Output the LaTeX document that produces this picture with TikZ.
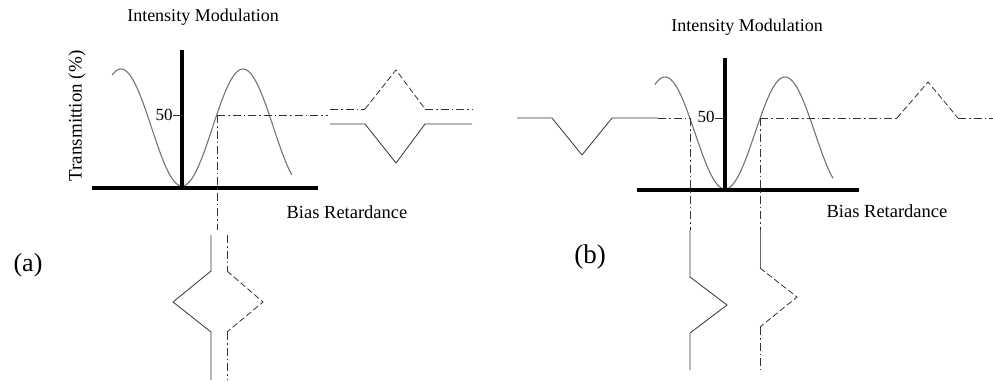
\documentclass[tikz,border=0pt]{standalone}
\usepackage{fontspec}
\setmainfont{Liberation Serif}
\begin{document}
\begin{tikzpicture}[x=1pt,y=-1pt,
  txt/.style={inner sep=0pt, font=\fontsize{17}{19}\selectfont},
  axisline/.style={line width=4pt, black},
  curve/.style={line width=1.1pt, black!55},
  wave/.style={line width=0.8pt, black!80},
  dashdot/.style={line width=0.8pt, black!80, dash pattern=on 8pt off 3pt on 1.5pt off 3pt},
  dashline/.style={line width=0.8pt, black!80, dash pattern=on 6pt off 3pt}]
\useasboundingbox (0,0) rectangle (993,381);
% ---------- panel (a) ----------
\node[txt, font=\fontsize{18}{20}\selectfont] (titleA) at (203,17) {Intensity Modulation};
\node[txt, font=\fontsize{19}{21}\selectfont, rotate=90] (ylab) at (77,116) {Transmittion (\%)};
\node[txt] (fiftyA) at (164,115) {50};
\node[txt, font=\fontsize{18.5}{20}\selectfont] (biasA) at (347,212) {Bias Retardance};
\node[txt, font=\fontsize{26}{28}\selectfont] (labA) at (28,265) {(a)};
\draw[curve] plot[domain=-206:324, samples=120, variable=\p] ({182+\p*0.33889}, {127.5+58.5*cos(\p)});
\draw[axisline] (182,50) -- (182,190);
\draw[axisline] (92,188) -- (318,188);
\draw[wave] (173,115) -- (182,115);
\draw[dashdot] (217,115) -- (328,115);
\draw[dashdot] (217,115) -- (217,230);
% output waveforms (a)
\draw[dashdot] (330,109) -- (365,109);
\draw[dashline] (365,109) -- (396,70) -- (425,109);
\draw[dashdot] (425,109) -- (472,109);
\draw[wave] (330,124) -- (365,124) -- (396,163) -- (425,124) -- (472,124);
% input waveforms (a)
\draw[wave] (211,235) -- (211,271) -- (173,302) -- (211,332) -- (211,380);
\draw[dashdot] (227,235) -- (227,271);
\draw[dashline] (227,271) -- (263,302) -- (227,332);
\draw[dashdot] (227,332) -- (227,380);
% ---------- panel (b) ----------
\node[txt, font=\fontsize{18}{20}\selectfont] (titleB) at (747,27) {Intensity Modulation};
\node[txt] (fiftyB) at (706,117) {50};
\node[txt, font=\fontsize{18.5}{20}\selectfont] (biasB) at (887,211) {Bias Retardance};
\node[txt, font=\fontsize{27}{29}\selectfont] (labB) at (590,257) {(b)};
\draw[curve] plot[domain=-210:324, samples=120, variable=\p] ({725+\p*0.33333}, {133+56*cos(\p)});
\draw[axisline] (725,58) -- (725,190);
\draw[axisline] (637,190) -- (859,190);
\draw[wave] (715,118) -- (725,118);
% input waveform (b)
\draw[wave] (517,118) -- (552,118) -- (582,155) -- (612,118) -- (658,118);
\draw[dashdot] (658,118) -- (690,118);
% output right (b)
\draw[dashdot] (760,118) -- (897,118);
\draw[dashline] (897,118) -- (928,82) -- (958,118);
\draw[dashdot] (958,118) -- (993,118);
% vertical outputs (b)
\draw[dashdot] (690,118) -- (690,230);
\draw[wave] (690,230) -- (690,277) -- (727,305) -- (690,333) -- (690,370);
\draw[dashdot] (760,118) -- (760,230);
\draw[wave, black!60] (760,230) -- (760,268);
\draw[dashline] (760,268) -- (797,297) -- (760,327);
\draw[dashdot] (760,327) -- (760,370);
\end{tikzpicture}
\end{document}
